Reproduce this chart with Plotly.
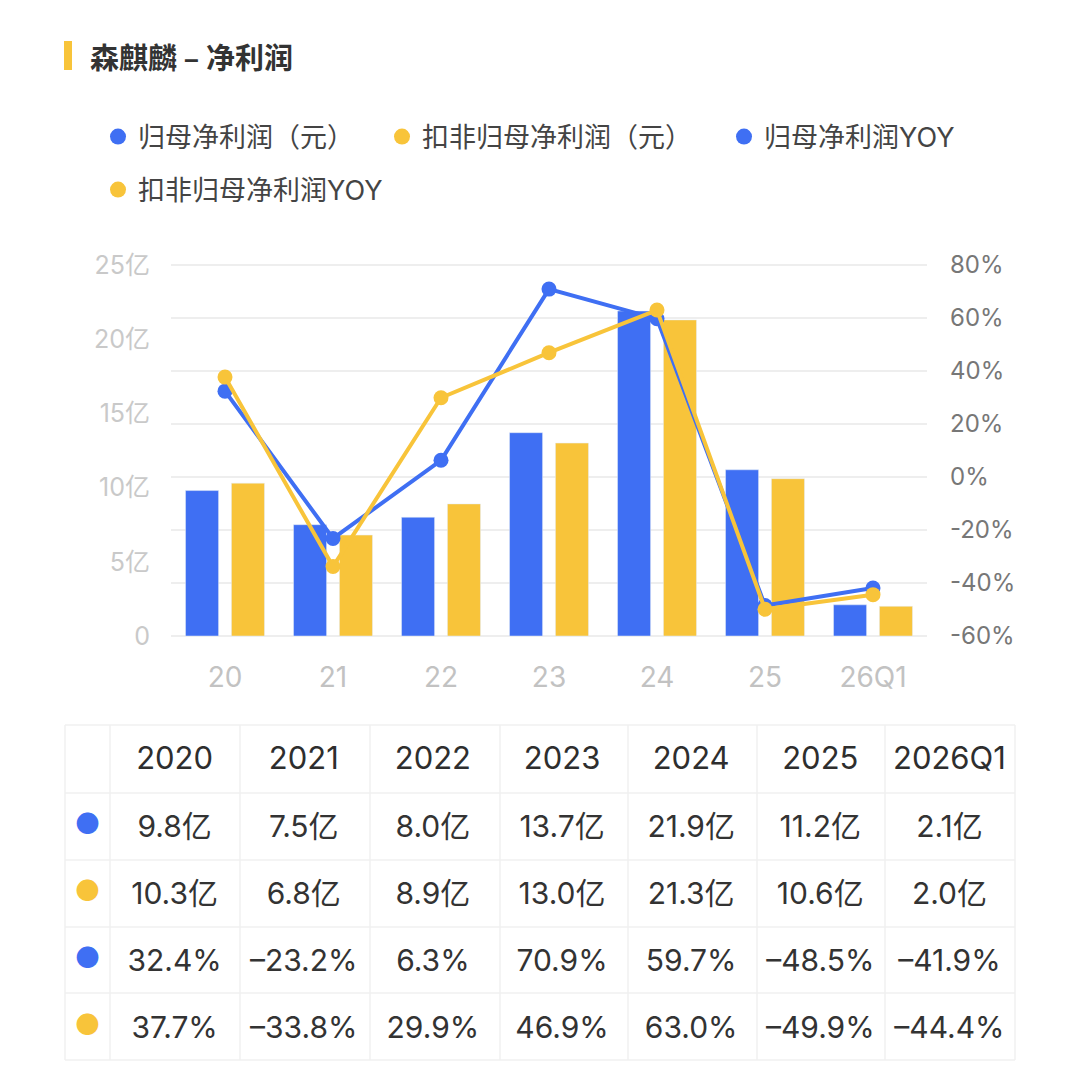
import plotly.graph_objects as go

categories = ["20", "21", "22", "23", "24", "25", "26Q1"]
years = ["2020", "2021", "2022", "2023", "2024", "2025", "2026Q1"]
net_profit = [9.8, 7.5, 8.0, 13.7, 21.9, 11.2, 2.1]          # 亿元
net_profit_ex = [10.3, 6.8, 8.9, 13.0, 21.3, 10.6, 2.0]      # 亿元
net_profit_yoy = [32.4, -23.2, 6.3, 70.9, 59.7, -48.5, -41.9]  # %
net_profit_ex_yoy = [37.7, -33.8, 29.9, 46.9, 63.0, -49.9, -44.4]  # %
series_names = ["归母净利润（元）", "扣非归母净利润（元）", "归母净利润YOY", "扣非归母净利润YOY"]
left_ticks = [0, 5, 10, 15, 20, 25]
left_ticktext = ["0", "5亿", "10亿", "15亿", "20亿", "25亿"]
right_ticks = [-60, -40, -20, 0, 20, 40, 60, 80]
right_ticktext = ["-60%", "-40%", "-20%", "0%", "20%", "40%", "60%", "80%"]

BLUE = "#3F6FF3"
YELLOW = "#F8C43A"
FONT = "Noto Sans CJK SC"
NUMFONT = "Inter, Noto Sans CJK SC"
W = H = 1080

def px_x(p):
    return p / W

def px_y(p):
    return 1 - p / H

# plot area: 0 / -60% at y=636 px, 25亿 / 80% at y=265 px; pad 2px so edge gridlines are drawn
PAD = 2
Y_BOTTOM, Y_TOP = 636, 265
span_px = Y_BOTTOM - Y_TOP
l_pad = PAD * (25 - 0) / span_px
r_pad = PAD * (80 - (-60)) / span_px

fig = go.Figure()

fig.add_trace(go.Bar(x=categories, y=net_profit, name=series_names[0], marker_color=BLUE,
                     showlegend=False, xaxis="x", yaxis="y"))
fig.add_trace(go.Bar(x=categories, y=net_profit_ex, name=series_names[1], marker_color=YELLOW,
                     showlegend=False, xaxis="x", yaxis="y"))
fig.add_trace(go.Scatter(x=categories, y=net_profit_yoy, name=series_names[2], mode="lines+markers",
                         line=dict(color=BLUE, width=4), marker=dict(size=15, color=BLUE),
                         showlegend=False, xaxis="x", yaxis="y2"))
fig.add_trace(go.Scatter(x=categories, y=net_profit_ex_yoy, name=series_names[3], mode="lines+markers",
                         line=dict(color=YELLOW, width=4), marker=dict(size=15, color=YELLOW),
                         showlegend=False, xaxis="x", yaxis="y2"))

# legend-only entries with circle symbols, one legend per entry
legend_ids = ["legend", "legend2", "legend3", "legend4"]
for name, col, lid in zip(series_names, [BLUE, YELLOW, BLUE, YELLOW], legend_ids):
    fig.add_trace(go.Scatter(x=[None], y=[None], mode="markers", name=name, legend=lid,
                             marker=dict(size=16, color=col, symbol="circle"), showlegend=True))

# table
def fmt_yi(v):
    return f"{v:.1f}亿"

def fmt_pct(v):
    return f"{v:.1f}%".replace("-", "–")

dots = ["●", "●", "●", "●"]
dot_colors = [BLUE, YELLOW, BLUE, YELLOW]
columns = [dots]
for i in range(len(years)):
    columns.append([fmt_yi(net_profit[i]), fmt_yi(net_profit_ex[i]),
                    fmt_pct(net_profit_yoy[i]), fmt_pct(net_profit_ex_yoy[i])])
font_colors = [dot_colors] + [["#333333"] * 4 for _ in years]
font_families = [FONT] + [NUMFONT] * len(years)
font_sizes = [24] + [30] * len(years)

TEXT_SHIFT = 13
fig.add_trace(go.Table(
    domain=dict(x=[px_x(65), px_x(1015)], y=[px_y(1062 + TEXT_SHIFT), px_y(725 + TEXT_SHIFT)]),
    columnwidth=[45] + [129] * 7,
    header=dict(values=[""] + years, height=68, align="center",
                fill_color="rgba(0,0,0,0)", line=dict(color="rgba(0,0,0,0)", width=0),
                font=dict(family=NUMFONT, size=31, color="#2E2E2E")),
    cells=dict(values=columns, height=67, align="center",
               fill_color="rgba(0,0,0,0)", line=dict(color="rgba(0,0,0,0)", width=0),
               font=dict(family=font_families, size=font_sizes, color=font_colors)),
))

# table grid lines
col_edges = [65, 110, 240, 370, 500, 628, 757, 885, 1015]
row_edges = [725, 793, 860, 927, 993, 1060]
shapes = []
for xe in col_edges:
    shapes.append(dict(type="line", xref="paper", yref="paper", x0=px_x(xe), x1=px_x(xe),
                       y0=px_y(row_edges[0]), y1=px_y(row_edges[-1]),
                       line=dict(color="#F0F0F0", width=1.5), layer="below"))
for ye in row_edges:
    shapes.append(dict(type="line", xref="paper", yref="paper", x0=px_x(col_edges[0]), x1=px_x(col_edges[-1]),
                       y0=px_y(ye), y1=px_y(ye), line=dict(color="#F0F0F0", width=1.5), layer="below"))
shapes.append(dict(type="rect", xref="paper", yref="paper", x0=px_x(64), x1=px_x(72),
                   y0=px_y(70), y1=px_y(41), fillcolor="#F8C43A", line=dict(width=0)))

legend_common = dict(orientation="h", xanchor="left", yanchor="middle",
                     font=dict(size=27, color="#444444", family=NUMFONT), itemwidth=30,
                     bgcolor="rgba(0,0,0,0)")
legend_pos = [(118, 137), (402, 137), (744, 137), (118, 190)]

layout_legends = {}
for lid, (mx, my) in zip(legend_ids, legend_pos):
    layout_legends[lid] = dict(legend_common, x=px_x(mx - 20), y=px_y(my))

fig.update_layout(
    width=W, height=H,
    margin=dict(l=0, r=0, t=0, b=0, autoexpand=False),
    paper_bgcolor="white", plot_bgcolor="white",
    font=dict(family=FONT, color="#333333"),
    barmode="group", bargap=0.15, bargroupgap=0.28,
    xaxis=dict(domain=[px_x(171), px_x(927)], showgrid=False, zeroline=False, showline=False,
               automargin=False, ticks="", tickfont=dict(size=28, color="#C2C2C2", family=NUMFONT),
               ticklabelstandoff=20),
    yaxis=dict(domain=[px_y(Y_BOTTOM + PAD), px_y(Y_TOP - PAD)], range=[-l_pad, 25 + l_pad],
               tickvals=left_ticks, ticktext=left_ticktext, showgrid=False, zeroline=False,
               showline=False, automargin=False,
               tickfont=dict(size=25, color="#C9C9C9", family=NUMFONT), ticklabelstandoff=20),
    yaxis2=dict(overlaying="y", side="right", range=[-60 - r_pad, 80 + r_pad], tickvals=right_ticks,
                ticktext=right_ticktext, automargin=False,
                showgrid=True, gridcolor="#EEEEEE", gridwidth=1.5, zeroline=False, showline=False,
                tickfont=dict(size=24, color="#777777", family=NUMFONT), ticklabelstandoff=22),
    shapes=shapes,
    annotations=[dict(text="<b>森麒麟 – 净利润</b>", xref="paper", yref="paper",
                      x=px_x(88), y=px_y(56), xanchor="left", yanchor="middle", showarrow=False,
                      font=dict(size=29, color="#333333", family=FONT))],
    **layout_legends,
)

fig.write_html("out.html")
